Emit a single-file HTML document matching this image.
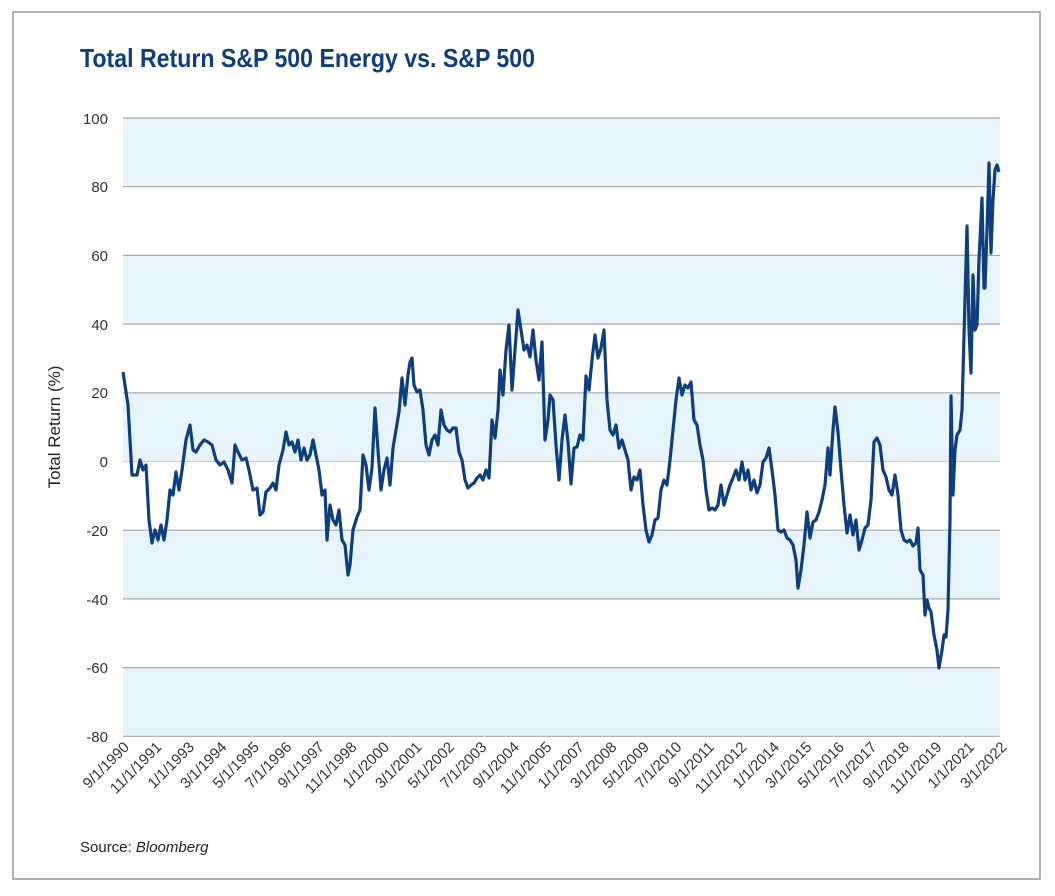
<!DOCTYPE html>
<html><head><meta charset="utf-8"><style>
body{margin:0;background:#fff;width:1055px;height:891px;overflow:hidden;font-family:"Liberation Sans",sans-serif}
</style></head><body>
<svg width="1055" height="891" xmlns="http://www.w3.org/2000/svg" font-family="Liberation Sans, sans-serif">
<rect x="13" y="12" width="1027" height="867" fill="#fff" stroke="#999" stroke-width="1.5"/>
<text x="80" y="67" font-size="26" font-weight="bold" fill="#0d3f7f" textLength="455" lengthAdjust="spacingAndGlyphs">Total Return S&amp;P 500 Energy vs. S&amp;P 500</text>
<g fill="#e8f4fc">
<rect x="123" y="118" width="877" height="68.7"/>
<rect x="123" y="255.4" width="877" height="68.7"/>
<rect x="123" y="392.8" width="877" height="68.7"/>
<rect x="123" y="530.2" width="877" height="68.7"/>
<rect x="123" y="667.6" width="877" height="68.7"/>
</g>
<g stroke="#a8a8a8" stroke-width="1.2">
<line x1="123" x2="1000" y1="118" y2="118"/><line x1="123" x2="1000" y1="186.7" y2="186.7"/>
<line x1="123" x2="1000" y1="255.4" y2="255.4"/><line x1="123" x2="1000" y1="324.1" y2="324.1"/>
<line x1="123" x2="1000" y1="392.8" y2="392.8"/>
<line x1="123" x2="1000" y1="530.2" y2="530.2"/><line x1="123" x2="1000" y1="598.9" y2="598.9"/>
<line x1="123" x2="1000" y1="667.6" y2="667.6"/><line x1="123" x2="1000" y1="736.3" y2="736.3"/>
</g>
<line x1="123" x2="1000" y1="461.5" y2="461.5" stroke="#e8c0c8" stroke-width="1.2"/>
<g font-size="15" fill="#333" text-anchor="end">
<text x="108" y="124">100</text><text x="108" y="192">80</text><text x="108" y="261">60</text>
<text x="108" y="330">40</text><text x="108" y="398">20</text><text x="108" y="467">0</text>
<text x="108" y="536">-20</text><text x="108" y="605">-40</text><text x="108" y="673">-60</text><text x="108" y="742">-80</text>
</g>
<text transform="translate(60,427) rotate(-90)" font-size="17" fill="#222" text-anchor="middle">Total Return (%)</text>
<g font-size="15" fill="#333" text-anchor="end">
<text transform="translate(130,748) rotate(-45)">9/1/1990</text>
<text transform="translate(162.5,748) rotate(-45)">11/1/1991</text>
<text transform="translate(195,748) rotate(-45)">1/1/1993</text>
<text transform="translate(227.5,748) rotate(-45)">3/1/1994</text>
<text transform="translate(260,748) rotate(-45)">5/1/1995</text>
<text transform="translate(292.5,748) rotate(-45)">7/1/1996</text>
<text transform="translate(325,748) rotate(-45)">9/1/1997</text>
<text transform="translate(357.5,748) rotate(-45)">11/1/1998</text>
<text transform="translate(390,748) rotate(-45)">1/1/2000</text>
<text transform="translate(422.5,748) rotate(-45)">3/1/2001</text>
<text transform="translate(455,748) rotate(-45)">5/1/2002</text>
<text transform="translate(487.5,748) rotate(-45)">7/1/2003</text>
<text transform="translate(520,748) rotate(-45)">9/1/2004</text>
<text transform="translate(552.5,748) rotate(-45)">11/1/2005</text>
<text transform="translate(585,748) rotate(-45)">1/1/2007</text>
<text transform="translate(617.5,748) rotate(-45)">3/1/2008</text>
<text transform="translate(650,748) rotate(-45)">5/1/2009</text>
<text transform="translate(682.5,748) rotate(-45)">7/1/2010</text>
<text transform="translate(715,748) rotate(-45)">9/1/2011</text>
<text transform="translate(747.5,748) rotate(-45)">11/1/2012</text>
<text transform="translate(780,748) rotate(-45)">1/1/2014</text>
<text transform="translate(812.5,748) rotate(-45)">3/1/2015</text>
<text transform="translate(845,748) rotate(-45)">5/1/2016</text>
<text transform="translate(877.5,748) rotate(-45)">7/1/2017</text>
<text transform="translate(910,748) rotate(-45)">9/1/2018</text>
<text transform="translate(942.5,748) rotate(-45)">11/1/2019</text>
<text transform="translate(975,748) rotate(-45)">1/1/2021</text>
<text transform="translate(1007.5,748) rotate(-45)">3/1/2022</text>
</g>
<polyline fill="none" stroke="#0d3f7f" stroke-width="3.2" stroke-linejoin="round" points="123,372 128,405 132,475 137,475 140,460 143,470 146,465 149,520 152,543 155,530 158,540 161,525 164,540 167,520 170,490 173,495 176,472 179,490 182,470 186,440 190,425 193,450 196,452 200,445 204,440 208,442 212,445 216,460 220,465 224,462 228,470 232,483 235,445 238,452 242,460 246,458 249,470 253,490 257,488 260,515 263,512 266,492 270,488 273,483 276,490 279,465 283,450 286,432 289,445 292,442 295,452 298,440 301,460 304,448 307,460 310,455 313,440 316,455 319,470 322,495 325,490 327,540 330,505 333,520 336,525 339,510 342,540 345,545 348,575 350,565 353,530 357,517 360,510 363,455 366,465 369,490 372,468 375,408 378,450 381,490 384,470 387,458 390,485 393,448 396,430 399,412 402,378 405,405 408,375 410,362 412,358 414,385 417,392 420,390 423,410 426,445 429,455 432,440 435,435 438,445 441,410 444,425 447,430 450,432 453,428 456,428 459,452 462,460 465,480 468,488 471,485 474,483 477,478 480,475 483,480 486,470 489,478 492,420 495,438 498,410 500,370 503,395 506,350 509,325 512,390 515,350 518,310 521,330 524,350 527,345 530,357 533,330 536,360 539,380 542,342 545,440 548,420 550,395 553,400 556,445 559,480 562,440 565,415 568,442 571,484 574,448 577,447 580,435 583,440 586,376 589,390 592,360 595,335 598,358 601,348 604,330 607,400 610,430 613,435 616,425 619,448 622,440 625,450 628,460 631,490 634,477 637,480 640,470 643,505 646,530 649,542 652,535 655,520 658,518 661,490 664,480 667,485 670,460 673,430 676,400 679,378 682,395 685,385 688,388 691,382 694,420 697,425 700,445 703,460 706,490 709,510 712,508 715,510 718,505 721,485 724,505 727,495 730,485 733,478 736,470 739,480 742,462 745,480 748,470 751,490 754,480 757,493 760,485 763,462 766,458 769,448 772,470 775,495 778,530 781,532 784,530 787,538 790,540 793,545 796,560 798,588 801,570 804,545 807,512 810,538 813,522 816,520 819,512 822,500 825,485 828,448 830,475 833,430 835,407 838,432 841,470 844,505 847,533 850,515 853,535 856,520 859,550 862,540 865,528 868,525 871,500 874,442 877,438 880,445 883,470 886,477 889,490 892,495 895,475 898,495 901,530 904,540 907,542 910,540 913,546 916,543 918,528 920,570 923,575 925,615 927,600 929,608 931,612 934,635 937,650 939,668 942,650 944,635 946,637 948,610 950,520 951,396 953,495 955,450 957,435 960,430 962,410 967,226 969,330 971,373 973,275 975,330 977,325 979,260 982,198 984,288 985,288 987,230 989,163 991,253 993,200 995,170 997,165 999,172"/>
<text x="80" y="852" font-size="15" fill="#222">Source: <tspan font-style="italic">Bloomberg</tspan></text>
</svg>
</body></html>
